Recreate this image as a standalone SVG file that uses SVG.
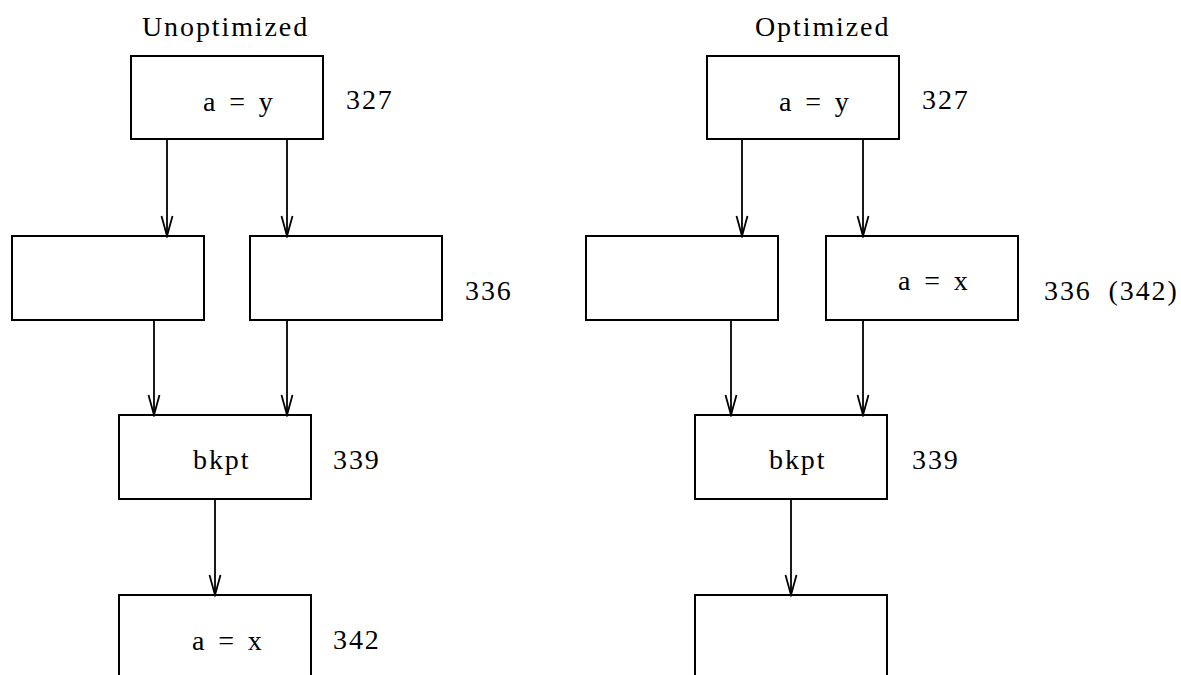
<svg xmlns="http://www.w3.org/2000/svg" width="1181" height="675" viewBox="0 0 1181 675">
  <style>
    .box { fill: #fff; stroke: #000; stroke-width: 2; }
    .edge { fill: none; stroke: #000; stroke-width: 1.8; marker-end: url(#vhead); }
    text { font-family: "Liberation Serif", "Times New Roman", serif; font-size: 28px; fill: #000; letter-spacing: 1.9px; }
    .expr { word-spacing: 3px; }
    .wide { word-spacing: 8px; }
  </style>
  <defs>
    <marker id="vhead" markerUnits="userSpaceOnUse" markerWidth="24" markerHeight="14" viewBox="-22 -7 24 14" refX="0" refY="0" orient="auto">
      <path d="M-20,-5.5 L0,0 L-20,5.5" fill="none" stroke="#000" stroke-width="1.8"/>
    </marker>
  </defs>

  <rect width="1181" height="675" fill="#fff"/>

  <!-- column headings -->
  <text x="142" y="36">Unoptimized</text>
  <text x="755" y="36">Optimized</text>

  <!-- left column: unoptimized flow -->
  <g id="u-assign-y">
    <rect class="box" x="131" y="56" width="192" height="83"/>
    <text class="expr" x="203" y="111">a = y</text>
    <text x="346" y="109">327</text>
  </g>
  <g id="u-branch-left">
    <rect class="box" x="12" y="236" width="192" height="84"/>
  </g>
  <g id="u-branch-right">
    <rect class="box" x="250" y="236" width="192" height="84"/>
    <text x="465" y="300">336</text>
  </g>
  <g id="u-bkpt">
    <rect class="box" x="119" y="415" width="192" height="84"/>
    <text x="193" y="469">bkpt</text>
    <text x="333" y="469">339</text>
  </g>
  <g id="u-assign-x">
    <rect class="box" x="119" y="595" width="192" height="100"/>
    <text class="expr" x="192" y="650">a = x</text>
    <text x="333" y="649">342</text>
  </g>

  <!-- right column: optimized flow -->
  <g id="o-assign-y">
    <rect class="box" x="707" y="56" width="192" height="83"/>
    <text class="expr" x="779" y="111">a = y</text>
    <text x="922" y="109">327</text>
  </g>
  <g id="o-branch-left">
    <rect class="box" x="586" y="236" width="192" height="84"/>
  </g>
  <g id="o-branch-right">
    <rect class="box" x="826" y="236" width="192" height="84"/>
    <text class="expr" x="898" y="290">a = x</text>
    <text class="wide" x="1044" y="300">336 (342)</text>
  </g>
  <g id="o-bkpt">
    <rect class="box" x="695" y="415" width="192" height="84"/>
    <text x="769" y="469">bkpt</text>
    <text x="912" y="469">339</text>
  </g>
  <g id="o-tail">
    <rect class="box" x="695" y="595" width="192" height="100"/>
  </g>

  <!-- connectors -->
  <g id="connectors">
    <line class="edge" x1="167" y1="139" x2="167" y2="236"/>
    <line class="edge" x1="287" y1="139" x2="287" y2="236"/>
    <line class="edge" x1="154" y1="320" x2="154" y2="415"/>
    <line class="edge" x1="287" y1="320" x2="287" y2="415"/>
    <line class="edge" x1="215" y1="499" x2="215" y2="595"/>

    <line class="edge" x1="742" y1="139" x2="742" y2="236"/>
    <line class="edge" x1="863" y1="139" x2="863" y2="236"/>
    <line class="edge" x1="731" y1="320" x2="731" y2="415"/>
    <line class="edge" x1="863" y1="320" x2="863" y2="415"/>
    <line class="edge" x1="791" y1="499" x2="791" y2="595"/>
  </g>
</svg>
